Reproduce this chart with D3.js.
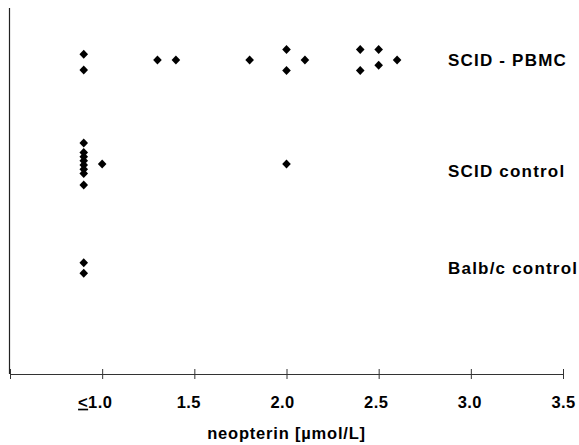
<!DOCTYPE html>
<html>
<head>
<meta charset="utf-8">
<script src="https://cdn.jsdelivr.net/npm/d3@7"></script>
<style>
    body { margin: 0; background: #fff; }
    svg { display: block; font-family: Arial, "Liberation Sans", sans-serif; font-weight: bold; }
</style>
</head>
<body>
<svg id="chart" width="579" height="445"></svg>
<script>
// groups, top to bottom
let groups = ["SCID - PBMC", "SCID control", "Balb/c control"]

// neopterin values per group (values <= 1.0 are drawn at 0.9)
let pbmc_values = [0.9, 0.9, 1.3, 1.4, 1.8, 2.0, 2.0, 2.1, 2.4, 2.4, 2.5, 2.5, 2.6]
let pbmc_stack = [-1.1, 1.9, 0, 0, 0, -2, 2, 0, -2, 2, -2, 1, 0]

let scid_values = [0.9, 0.9, 0.9, 0.9, 0.9, 0.9, 0.9, 0.9, 1.0, 2.0]
let scid_stack = [-4, -2.2, -1.4, -0.6, 0.2, 1, 1.8, 4, 0, 0]

let balb_values = [0.9, 0.9]
let balb_stack = [-1, 1]

let tick_values = [0.5, 1.0, 1.5, 2.0, 2.5, 3.0, 3.5]
let x_title = "neopterin [µmol/L]"

let points = []
let series = [[pbmc_values, pbmc_stack], [scid_values, scid_stack], [balb_values, balb_stack]]
series.forEach(([vals, stack], g) => {
    vals.forEach((v, i) => points.push({ group: groups[g], value: v, stack: stack[i] }))
})

let svg = d3.select('#chart')

let x = d3.scaleLinear().domain([0.5, 3.5]).range([10, 563])
let y = d3.scalePoint().domain(groups).range([60, 268])
let stack_y = d3.scaleLinear().domain([-1, 1]).range([-5.25, 5.25])

let axis_y = 374

// y axis line only
svg.append('line')
    .attr('x1', 9.5).attr('x2', 9.5)
    .attr('y1', 8).attr('y2', axis_y)
    .attr('stroke', '#222').attr('stroke-width', 1.2)

let xAxis = svg.append('g')
    .attr('transform', `translate(0,${axis_y})`)
    .call(d3.axisBottom(x).tickValues(tick_values).tickSizeOuter(0)
        .tickFormat(d => d === 0.5 ? '' : d3.format('.1f')(d)))

xAxis.attr('font-size', 16.5).attr('font-family', null)
xAxis.select('.domain').attr('stroke', '#333').attr('stroke-width', 1.2)
xAxis.selectAll('.tick line').attr('y1', -5).attr('y2', 5).attr('stroke', '#333')
xAxis.selectAll('.tick text')
    .attr('y', 22)
    .attr('dx', d => -(3.5 - d) * 3)
    .attr('fill', '#000')
    .attr('letter-spacing', 0.4)

// first label reads "<1.0" with the "<" underlined
xAxis.selectAll('.tick text').filter(d => d === 1.0)
    .text(null)
    .call(t => {
        t.append('tspan').attr('text-decoration', 'underline').text('<')
        t.append('tspan').text('1.0')
    })

svg.append('text')
    .attr('x', x(2.0))
    .attr('y', 439)
    .attr('text-anchor', 'middle')
    .attr('font-size', 16.5)
    .attr('letter-spacing', 0.8)
    .text(x_title)

svg.append('g').selectAll('text')
    .data(groups)
    .join('text')
    .attr('x', 448)
    .attr('y', (d, i) => y(d) + (i === 1 ? 13 : 6))
    .attr('font-size', 17)
    .attr('letter-spacing', 1.2)
    .text(d => d)

// diamond marker
let diamond = {
    draw(ctx, size) {
        let w = 4.3, h = 4.5
        ctx.moveTo(0, -h)
        ctx.lineTo(w, 0)
        ctx.lineTo(0, h)
        ctx.lineTo(-w, 0)
        ctx.closePath()
    }
}

svg.append('g').selectAll('path')
    .data(points)
    .join('path')
    .attr('d', d3.symbol(diamond))
    .attr('transform', d => `translate(${x(d.value)},${y(d.group) + stack_y(d.stack)})`)
    .attr('fill', '#000')
</script>
</body>
</html>
